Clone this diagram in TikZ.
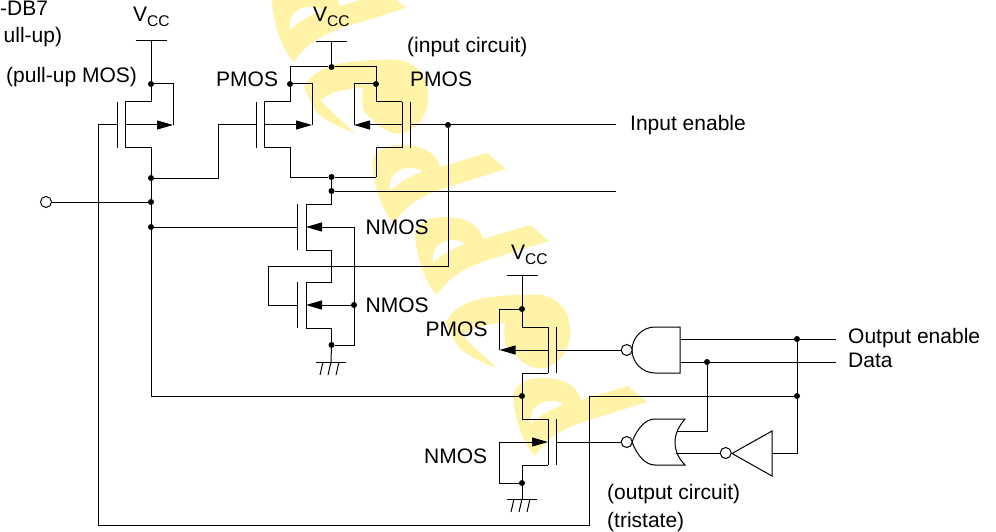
\documentclass[tikz,border=0pt]{standalone}
\usepackage{fontspec}
\setmainfont{Liberation Sans}
\usepackage{xcolor}
\definecolor{pale-yellow}{HTML}{FFF3A8}
\usetikzlibrary{arrows.meta}
\tikzset{wire/.style = {line width=1pt}}
\tikzset{arr/.style = {line width=1pt, -{Triangle[length=16pt, width=9pt]}}}
\tikzset{dot/.style = {circle, fill=black, inner sep=0pt, minimum size=6pt}}
\tikzset{bubble/.style = {circle, draw, line width=1pt, fill=white, inner sep=0pt, minimum size=11pt}}
\tikzset{lbl/.style = {inner sep=0pt, anchor=base west, font=\fontsize{21}{24}\selectfont}}
\tikzset{wma/.pic = {
  \fill[pale-yellow, even odd rule] (0,18) .. controls (2,6) and (14,0) .. (28,0)
    .. controls (48,0) and (64,6) .. (68,22) -- (115,8) -- (134,24) -- (76,42)
    .. controls (50,50) and (34,60) .. (22,78) .. controls (10,66) and (2,42) .. (0,18)
    (18,46) .. controls (16,32) and (24,22) .. (40,23) .. controls (44,23) and (48,25) .. (50,27)
    .. controls (38,31) and (26,38) .. (18,46) -- cycle;
}}
\tikzset{wmb/.pic = {
  \fill[pale-yellow] (0,27) .. controls (8,12) and (22,6) .. (39,3)
    .. controls (58,0) and (78,-1) .. (96,0) .. controls (112,4) and (122,14) .. (123,27)
    .. controls (125,36) and (124,42) .. (123,47) .. controls (120,58) and (114,66) .. (106,70)
    .. controls (100,74) and (94,74) .. (89,73) .. controls (80,70) and (74,66) .. (69,60)
    .. controls (62,54) and (58,50) .. (59,47) .. controls (58,40) and (58,34) .. (59,28)
    .. controls (48,28) and (38,30) .. (29,33) -- (16,40) -- (29,53) -- (51,73)
    .. controls (36,68) and (24,62) .. (13,53) .. controls (8,44) and (3,36) .. (0,27) -- cycle;
}}
\newcommand{\vcc}{V\raisebox{-5pt}{\fontsize{15.5}{15}\selectfont CC}}

\begin{document}
\begin{tikzpicture}[x=1pt, y=-1pt]

\clip (0,0) rectangle (996,532);

% background marks
\pic at (272,-16) {wma};
\pic at (304,60) {wmb};
\pic at (372,145) {wma};
\pic at (415,217) {wma};
\pic at (446,295) {wmb};
\pic at (513,378) {wma};

% transistors
\foreach \q/\xc/\xp/\yc in {q1/125/117/125, q2/264/256/125, q3/402/410/125,
    q4/306/297/227, q5/306/297/305, q6/548/556/350, q7/548/556/442} {
  \coordinate (\q ct) at (\xc,\yc-23);
  \coordinate (\q cb) at (\xc,\yc+23);
  \coordinate (\q m) at (\xc,\yc);
  \coordinate (\q g) at (\xp,\yc);
  \draw[wire] (\q ct) -- (\q cb);
  \draw[wire] (\xp,\yc-23) -- (\xp,\yc+23);
}

% supply rails and grounds
\coordinate (v1) at (151,41);
\coordinate (v2) at (331.5,42);
\coordinate (v3) at (522,275);
\coordinate (g1) at (331,362);
\coordinate (g2) at (522,499);
\foreach \v in {v1, v2, v3} {
  \draw[wire] (\v) ++(-15.5,0) -- ++(31,0);
}
\foreach \g in {g1, g2} {
  \draw[wire] (\g) ++(-15,0) -- ++(30,0);
  \foreach \d in {-8, 0, 8} {
    \draw[wire] (\g) ++(\d,0) -- ++(-3,13);
  }
}

% junctions
\node[dot] (j1) at (151,84) {};
\node[dot] (j2) at (151,178) {};
\node[dot] (j3) at (151,202) {};
\node[dot] (j4) at (151,227) {};
\node[dot] (j5) at (331.5,67) {};
\node[dot] (j6) at (290,84) {};
\node[dot] (j7) at (376,84) {};
\node[dot] (j8) at (331.5,177) {};
\node[dot] (j9) at (331.5,191) {};
\node[dot] (j10) at (448,125) {};
\node[dot] (j11) at (354,305) {};
\node[dot] (j12) at (331.5,345) {};
\node[dot] (j13) at (522,309) {};
\node[dot] (j14) at (522,396) {};
\node[dot] (j15) at (522,483) {};
\node[dot] (j16) at (707,362) {};
\node[dot] (j17) at (797,339) {};
\node[dot] (j18) at (797,396) {};

% bends and free ends
\coordinate (a1) at (173,125);
\coordinate (a2) at (312,125);
\coordinate (a3) at (354,125);
\coordinate (a6) at (499.5,350);
\coordinate (a7) at (499.5,442);
\coordinate (a4) at (354,227);
\coordinate (c1) at (98,525);
\coordinate (c2) at (589,396);
\coordinate (c3) at (218,125);
\coordinate (c4) at (290,177);
\coordinate (c5) at (376,177);
\coordinate (c6) at (268,266);
\coordinate (c7) at (331.5,266);
\coordinate (i1) at (616,125);
\coordinate (i2) at (616,191);
\coordinate (o1) at (836,339);
\coordinate (o2) at (836,362);

% pins of the gates
\coordinate (p1) at (680,339);
\coordinate (p2) at (680,362);
\coordinate (p3) at (677,431);
\coordinate (p4) at (676,453);
\coordinate (p5) at (772,453);

\draw[wire, fill=white] (680,327) -- (655,327) .. controls (642,327) and (632,338) .. (632,350)
  .. controls (632,362) and (642,373) .. (655,373) -- (680,373) -- cycle;
\draw[wire, fill=white] (655,419) -- (685,419) .. controls (678,427) and (675,435) .. (675,442)
  .. controls (675,450) and (678,458) .. (685,465) -- (655,465)
  .. controls (645,465) and (637,455) .. (632,442) .. controls (637,429) and (645,419) .. (655,419) -- cycle;
\draw[wire, fill=white] (772,431) -- (772,476) -- (732,453.5) -- cycle;

\node[bubble] (b0) at (46,202) {};
\node[bubble] (b1) at (626.7,350) {};
\node[bubble] (b2) at (626.7,442) {};
\node[bubble] (b3) at (725.7,453) {};

% pull-up
\draw[wire]  (v1) -- (j1);
\draw[wire]  (q1ct) -| (j1);
\draw[wire]  (j1) -| (a1);
\draw[arr]  (q1m) -- (a1);
\draw[wire]  (q1cb) -| (j2);
\draw[wire]  (j2) -- (j3);
\draw[wire]  (j3) -- (j4);
\draw[wire]  (j4) |- (j14);
\draw[wire]  (b0) -- (j3);
\draw[wire]  (q1g) -| (c1);
\draw[wire]  (c1) -| (c2);
\draw[wire]  (c2) -- (j18);
\draw[wire]  (j2) -| (c3);
\draw[wire]  (c3) -- (q2g);

% input circuit
\draw[wire]  (v2) -- (j5);
\draw[wire]  (q2ct) -| (j6);
\draw[wire]  (j6) |- (j5);
\draw[wire]  (j5) -| (j7);
\draw[wire]  (j6) -| (a2);
\draw[arr]  (q2m) -- (a2);
\draw[wire]  (j7) |- (q3ct);
\draw[wire]  (j7) -| (a3);
\draw[arr]  (q3m) -- (a3);
\draw[wire]  (q2cb) -| (c4);
\draw[wire]  (c4) -- (j8);
\draw[wire]  (j8) -- (c5);
\draw[wire]  (c5) |- (q3cb);
\draw[wire]  (j8) -- (j9);
\draw[wire]  (j9) -- (i2);
\draw[wire]  (j9) |- (q4ct);
\draw[wire]  (q3g) -- (j10);
\draw[wire]  (j10) -- (i1);
\draw[wire]  (j10) |- (c6);
\draw[wire]  (c6) |- (q5g);
\draw[wire]  (j4) -- (q4g);
\draw[wire]  (q4cb) -| (c7);
\draw[wire]  (c7) |- (q5ct);
\draw[wire]  (q5cb) -| (j12);
\draw[wire]  (j12) -- (g1);
\draw[wire]  (j12) -| (a4);
\draw[arr]  (a4) -- (q4m);
\draw[arr]  (j11) -- (q5m);

% output circuit
\draw[wire]  (v3) -- (j13);
\draw[wire]  (j13) |- (q6ct);
\draw[wire]  (j13) -| (a6);
\draw[arr]  (q6m) -- (a6);
\draw[wire]  (q6cb) -| (j14);
\draw[wire]  (j14) |- (q7ct);
\draw[wire]  (q7cb) -| (j15);
\draw[wire]  (j15) -- (g2);
\draw[wire]  (j15) -| (a7);
\draw[arr]  (a7) -- (q7m);
\draw[wire]  (q6g) -- (b1);
\draw[wire]  (q7g) -- (b2);
\draw[wire]  (p1) -- (j17);
\draw[wire]  (j17) -- (o1);
\draw[wire]  (p2) -- (j16);
\draw[wire]  (j16) -- (o2);
\draw[wire]  (j16) |- (p3);
\draw[wire]  (p4) -- (b3);
\draw[wire]  (p5) -| (j18);
\draw[wire]  (j18) -- (j17);

% labels
\node[lbl] (tdb) at (0,16) {-DB7};
\node[lbl] (tpu) at (3.5,43) {ull-up)};
\node[lbl] (tmos) at (6,83) {(pull-up MOS)};
\node[lbl] (tv1) at (133,22) {\vcc};
\node[lbl] (tv2) at (313,22) {\vcc};
\node[lbl] (tv3) at (511,259) {\vcc};
\node[lbl] (tin) at (407,53) {(input circuit)};
\node[lbl] (tp1) at (216,87) {PMOS};
\node[lbl] (tp2) at (410,87) {PMOS};
\node[lbl] (tp3) at (425.5,336) {PMOS};
\node[lbl] (tn1) at (365.5,234) {NMOS};
\node[lbl] (tn2) at (365.5,312) {NMOS};
\node[lbl] (tn3) at (424,463) {NMOS};
\node[lbl] (tie) at (630,131) {Input enable};
\node[lbl] (toe) at (848,343) {Output enable};
\node[lbl] (tda) at (848,367) {Data};
\node[lbl] (tou) at (607,499) {(output circuit)};
\node[lbl] (ttr) at (607,527) {(tristate)};

\end{tikzpicture}
\end{document}
